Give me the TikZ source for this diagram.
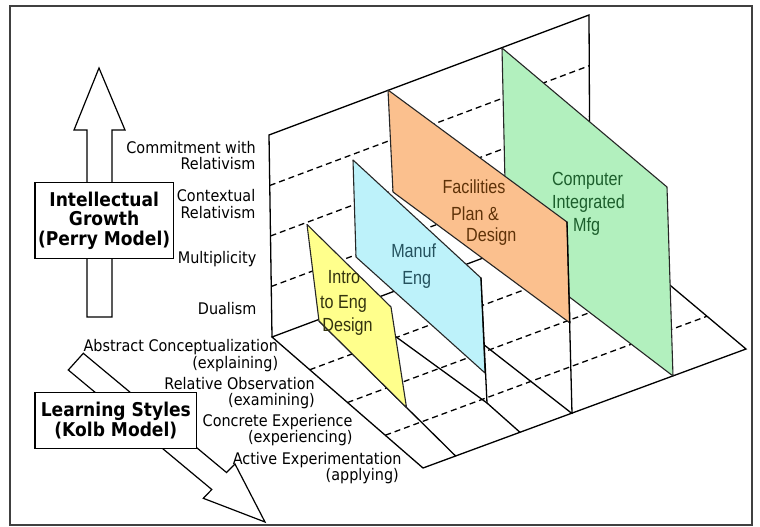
\documentclass[tikz,border=0pt]{standalone}
\usepackage{fontspec}
\usetikzlibrary{calc}
\newfontfamily\lblfont[FakeStretch=0.9]{DejaVu Sans}
\newfontfamily\panelfont[FakeStretch=0.85]{Liberation Sans}
\definecolor{ypanel}{HTML}{FFFF8C}
\definecolor{cpanel}{HTML}{BDF2FA}
\definecolor{opanel}{HTML}{FBC08E}
\definecolor{gpanel}{HTML}{B2F0BE}
\definecolor{ytext}{HTML}{33330F}
\definecolor{ctext}{HTML}{24525E}
\definecolor{otext}{HTML}{5E3208}
\definecolor{gtext}{HTML}{1C5E2C}
\begin{document}
\begin{tikzpicture}[x=1pt,y=-1pt,
  wall/.style={draw=black,line width=1.3pt,line cap=round},
  dashln/.style={draw=black,line width=1.3pt,dash pattern=on 6pt off 4pt},
  panel/.style={draw=black!85,line width=1.1pt,line join=round},
  hollow/.style={draw=black,line width=1.2pt,fill=white,line join=miter},
  boxnode/.style={draw=black,line width=1.2pt,fill=white,align=center,inner sep=0pt,
    font=\lblfont\bfseries\fontsize{19}{19.5}\selectfont},
  lbl/.style={font=\lblfont\fontsize{16}{16}\selectfont,inner sep=0pt,anchor=base east},
  ptext/.style={font=\panelfont\fontsize{19}{19}\selectfont,inner sep=0pt,anchor=base}]
\useasboundingbox (0,0) rectangle (760,527);
\fill[white] (0,0) rectangle (760,527);

% ---- key points ----
\coordinate (BWtl) at (269,135);
\coordinate (BWtr) at (589,15);
\coordinate (BWbr) at (590,218);
\coordinate (BWbl) at (272,337);
\coordinate (FFL) at (423,468);
\coordinate (FFR) at (746,349);
% yellow
\coordinate (Y1) at (307,224.5);
\coordinate (Y2) at (391,307);
\coordinate (Y3) at (406.5,407.5);
\coordinate (Y4) at (319,321);
\coordinate (YF) at (455.6,456);
% cyan
\coordinate (C1) at (353,160);
\coordinate (C2) at (481,278);
\coordinate (C3) at (485,373);
\coordinate (C4) at (356,257);
\coordinate (CB) at (354,306.3);
\coordinate (CL) at (487,403);
\coordinate (CF) at (520,432.3);
% orange
\coordinate (O1) at (388,90);
\coordinate (O2) at (567,222);
\coordinate (O3) at (570,323);
\coordinate (O4) at (393,192);
\coordinate (OB) at (408.6,286);
\coordinate (OF) at (572,413.5);
% green
\coordinate (G1) at (502,48);
\coordinate (G2) at (667,187);
\coordinate (G3) at (673,376);
\coordinate (G4) at (506.5,249);

% ---- back wall ----
\foreach \f in {0.25,0.5,0.75}
  \draw[dashln] ($(BWbl)!\f!(BWtl)$) -- ($(BWbr)!\f!(BWtr)$);
\draw[wall] (BWbl) -- (BWtl) -- (BWtr) -- (BWbr);
% ---- floor ----
\foreach \f in {0.25,0.5,0.75}
  \draw[dashln] ($(BWbl)!\f!(FFL)$) -- ($(BWbr)!\f!(FFR)$);
\draw[wall] (BWbl) -- (BWbr) -- (FFR) -- (FFL) -- cycle;
\draw[wall] (Y4) -- (YF);
\draw[wall] (CB) -- (CL) -- (CF);
\draw[wall] (OB) -- (OF);

% ---- panels (back to front) ----
\filldraw[panel,fill=gpanel] (G1) -- (G2) -- (G3) -- (G4) -- cycle;
\filldraw[panel,fill=opanel] (O1) -- (O2) -- (O3) -- (O4) -- cycle;
\filldraw[panel,fill=cpanel] (C1) -- (C2) -- (C3) -- (C4) -- cycle;
\filldraw[panel,fill=ypanel] (Y1) -- (Y2) -- (Y3) -- (Y4) -- cycle;
\draw[wall] (O2) -- (OF);
\draw[wall] (C2) -- (CL);

% ---- panel texts ----
\node[ptext,text=gtext] (g1) at (587.5,185) {Computer};
\node[ptext,text=gtext] (g2) at (588.5,208.3) {Integrated};
\node[ptext,text=gtext] (g3) at (586.7,231.7) {Mfg};
\node[ptext,text=otext] (o1) at (474,193.3) {Facilities};
\node[ptext,text=otext] (o2) at (475,220) {Plan \&};
\node[ptext,text=otext] (o3) at (491.3,241.7) {Design};
\node[ptext,text=ctext] (c1) at (413.7,257.3) {Manuf};
\node[ptext,text=ctext] (c2) at (416.7,284) {Eng};
\node[ptext,text=ytext] (y1) at (344,283) {Intro};
\node[ptext,text=ytext] (y2) at (343.5,308.5) {to Eng};
\node[ptext,text=ytext] (y3) at (347.5,331.5) {Design};

% ---- Perry arrow ----
\filldraw[hollow] (99,68) -- (125,130) -- (112,130) -- (112,317) -- (87,317) -- (87,130) -- (74,130) -- cycle;
\node[boxnode,minimum width=138.3pt,minimum height=75.6pt] (perry) at (104.15,220.5)
  {Intellectual\\Growth\\(Perry Model)};
% ---- Kolb arrow ----
\filldraw[hollow] (83.3,353.3) -- (226.5,472.5) -- (235,464) -- (265,522) -- (203.3,498.3)
  -- (211.8,489.5) -- (68.3,370) -- cycle;
\node[boxnode,minimum width=161.7pt,minimum height=55.6pt] (kolb) at (115.85,420.5)
  {Learning Styles\\(Kolb Model)};

% ---- Perry labels ----
\node[lbl] (p4a) at (256,153.3) {Commitment with};
\node[lbl] (p4b) at (255.5,169.3) {Relativism};
\node[lbl] (p3a) at (255.5,201.7) {Contextual};
\node[lbl] (p3b) at (255.5,218.3) {Relativism};
\node[lbl] (p2) at (256.5,263.4) {Multiplicity};
\node[lbl] (p1) at (256.7,314) {Dualism};
% ---- Kolb labels ----
\node[lbl] (k1a) at (278.3,351.7) {Abstract Conceptualization};
\node[lbl] (k1b) at (278.3,368.3) {(explaining)};
\node[lbl] (k2a) at (315,389.3) {Relative Observation};
\node[lbl] (k2b) at (315,405.7) {(examining)};
\node[lbl] (k3a) at (352.7,426.7) {Concrete Experience};
\node[lbl] (k3b) at (352.7,442.7) {(experiencing)};
\node[lbl] (k4a) at (401.7,464) {Active Experimentation};
\node[lbl] (k4b) at (399,480) {(applying)};

% ---- frame ----
\draw[black!75,line width=1.5pt] (10,6) rectangle (752,525);
\end{tikzpicture}
\end{document}
